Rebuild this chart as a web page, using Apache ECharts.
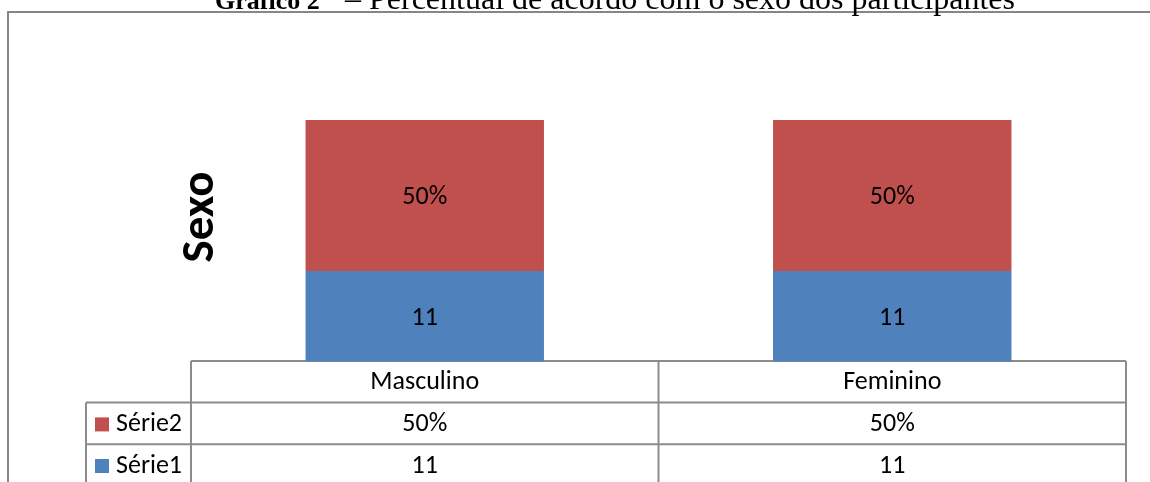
<!DOCTYPE html>
<html>
<head>
<meta charset="utf-8">
<script src="https://cdn.jsdelivr.net/npm/echarts@6/dist/echarts.min.js"></script>
<style>html,body{margin:0;padding:0;background:#fff;}#c{width:1150px;height:482px;}</style>
</head>
<body>
<div id="c"></div>
<script>
// ---- data ----
var categories = ['Masculino', 'Feminino'];
var serieNames = ['Série1', 'Série2'];
var serie1 = [11, 11];          // shown as "11"
var serie2 = [0.5, 0.5];        // shown as "50%"
var axisTitle = 'Sexo';
var chartTitleBold = 'Gráfico 2';
var chartTitleRest = '– Percentual de acordo com o sexo dos participantes';

// ---- style ----
var BLUE = '#4F81BD', RED = '#C0504D', LINE = '#8c8c8c';
var FONT = 'Carlito, Calibri, Lato, "Noto Sans", sans-serif';
var SERIF = '"Liberation Serif", "Times New Roman", serif';
var FS = 26;
var GL = 191, GR = 1126;             // plot area x range (table columns)
var TABLE_TOP = 361, ROW_H = 41.6, LEG_L = 86;

function fmt1(v) { return String(v); }
function fmt2(v) { return Math.round(v * 100) + '%'; }

var chart = echarts.init(document.getElementById('c'), null, {renderer: 'canvas'});

var option = {
  animation: false,
  backgroundColor: '#fff',
  grid: {left: GL, right: 1150 - GR, top: 29.4, bottom: 120.4, containLabel: false},
  xAxis: {
    type: 'category', data: categories,
    axisLine: {show: false}, axisTick: {show: false}, axisLabel: {show: false}, splitLine: {show: false}
  },
  yAxis: {
    type: 'value', min: 10.7, max: 11.8, show: false
  },
  series: [
    {
      name: serieNames[0], type: 'bar', stack: 's', data: serie1, barWidth: '51%',
      itemStyle: {color: BLUE},
      label: {show: true, position: 'inside', offset: [0, 2], color: '#000', fontFamily: FONT, fontSize: FS,
        formatter: function (p) { return fmt1(p.value); }}
    },
    {
      name: serieNames[1], type: 'bar', stack: 's', data: serie2, barWidth: '51%',
      itemStyle: {color: RED},
      label: {show: true, position: 'inside', offset: [0, 2], color: '#000', fontFamily: FONT, fontSize: FS,
        formatter: function (p) { return fmt2(p.value); }}
    }
  ]
};
chart.setOption(option);

// ---- table + decorations built from the axis scale ----
var centers = categories.map(function (c) { return chart.convertToPixel({xAxisIndex: 0}, c); });
var band = (GR - GL) / categories.length;
var g = [];
function line(x1, y1, x2, y2) {
  g.push({type: 'line', silent: true, shape: {x1: x1, y1: y1, x2: x2, y2: y2},
    style: {stroke: LINE, lineWidth: 2}});
}
function text(x, y, t, align) {
  g.push({type: 'text', silent: true, style: {x: x, y: y, text: t, fill: '#000', font: FS + 'px ' + FONT,
    textAlign: align || 'center', textVerticalAlign: 'middle'}});
}
// outer chart border
g.push({type: 'rect', silent: true, shape: {x: 8, y: 12, width: 1200, height: 600},
  style: {fill: 'none', stroke: '#868686', lineWidth: 2}});
// title (cropped at top)
g.push({type: 'text', silent: true, style: {
  x: 215, y: 2, textAlign: 'left', textVerticalAlign: 'middle',
  text: chartTitleBold, fill: '#000', font: 'bold 26px ' + SERIF}});
g.push({type: 'text', silent: true, style: {
  x: 345, y: 0.3, textAlign: 'left', textVerticalAlign: 'middle',
  text: chartTitleRest, fill: '#000', font: '32px ' + SERIF}});
// axis title
g.push({type: 'text', silent: true, x: 201, y: 217, rotation: Math.PI / 2,
  style: {x: 0, y: 0, text: axisTitle, fill: '#000', font: 'bold 47px ' + FONT,
    textAlign: 'center', textVerticalAlign: 'middle'}});

var rows = 3;
var bottom = TABLE_TOP + ROW_H * rows + 10;
// horizontals
line(GL, TABLE_TOP, GR, TABLE_TOP);
for (var r = 1; r < rows; r++) line(LEG_L, TABLE_TOP + ROW_H * r, GR, TABLE_TOP + ROW_H * r);
// verticals
line(LEG_L, TABLE_TOP + ROW_H, LEG_L, bottom);
for (var i = 0; i <= categories.length; i++) line(GL + band * i, TABLE_TOP, GL + band * i, bottom);
// header
categories.forEach(function (c, i) { text(centers[i], TABLE_TOP + ROW_H * 0.5 + 1, c); });
// rows: Série2 then Série1
var rowsData = [
  {name: serieNames[1], color: RED, vals: serie2.map(fmt2)},
  {name: serieNames[0], color: BLUE, vals: serie1.map(fmt1)}
];
rowsData.forEach(function (rd, k) {
  var cy = TABLE_TOP + ROW_H * (k + 1.5) + 1;
  g.push({type: 'rect', silent: true, shape: {x: 95, y: cy - 7, width: 14, height: 14}, style: {fill: rd.color}});
  text(116, cy, rd.name, 'left');
  rd.vals.forEach(function (v, i) { text(centers[i], cy, v); });
});
chart.setOption({graphic: {elements: g}});
</script>
</body>
</html>
